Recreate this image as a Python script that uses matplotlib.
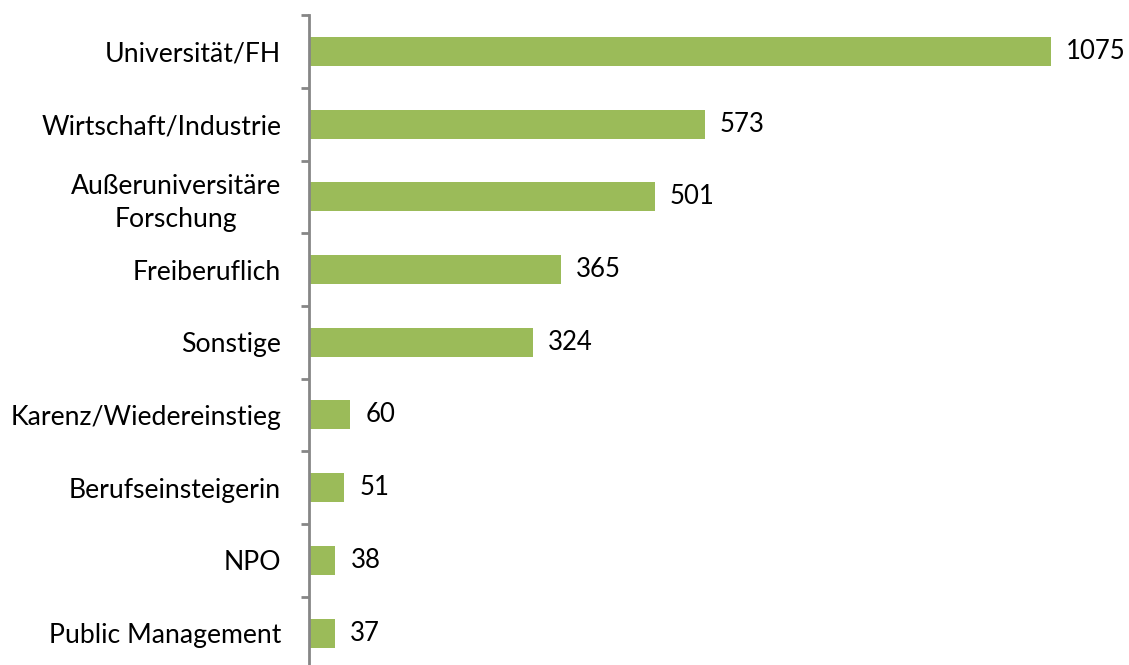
import matplotlib
matplotlib.use("Agg")
import matplotlib.pyplot as plt

categories = ["Universität/FH", "Wirtschaft/Industrie", "Außeruniversitäre\nForschung",
              "Freiberuflich", "Sonstige", "Karenz/Wiedereinstieg", "Berufseinsteigerin",
              "NPO", "Public Management"]
values = [1075, 573, 501, 365, 324, 60, 51, 38, 37]

plt.rcParams['font.family'] = ['Lato', 'DejaVu Sans']

fig = plt.figure(figsize=(11.29, 6.65), dpi=100)
ax = fig.add_axes([309/1129, (665-669.4)/665, 1-309/1129, 654.3/665])

n = len(categories)
pos = list(range(n))
ax.barh(pos, values, height=0.40, color="#9BBB59", zorder=2)
ax.set_ylim(n - 0.5, -0.5)
ax.set_xlim(0, (1129-309)/(742/1075))

for p, v in zip(pos, values):
    ax.annotate(str(v), xy=(v, p), xytext=(11, 0), textcoords="offset points",
                va="center", ha="left", fontsize=18.5, color="#000000")

ax.set_yticks([i - 0.5 for i in range(n + 1)])
ax.set_yticklabels([])
ax.set_yticks(pos, minor=True)
ax.set_yticklabels(categories, minor=True, fontsize=19.2, ha="right", multialignment="center")
ax.tick_params(axis="y", which="minor", length=0, pad=20)
ax.tick_params(axis="y", which="major", length=6, width=2, color="#868686")
for lbl in ax.get_yticklabels(minor=True):
    lbl.set_linespacing(1.4)

ax.set_xticks([])
for s in ["top", "right", "bottom"]:
    ax.spines[s].set_visible(False)
ax.spines["left"].set_color("#868686")
ax.spines["left"].set_linewidth(2)

fig.savefig("out.png", dpi=100)
